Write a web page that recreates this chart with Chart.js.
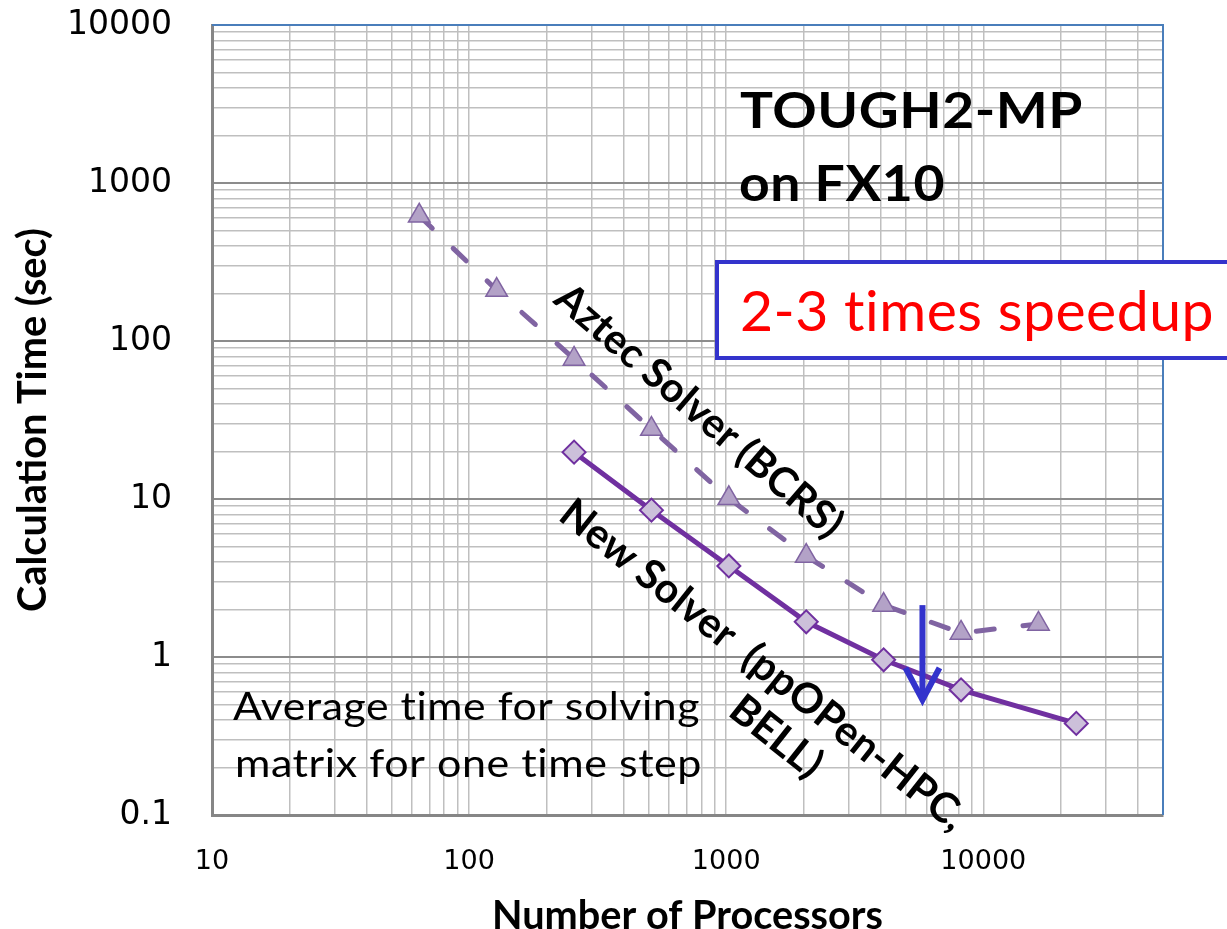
<!DOCTYPE html>
<html>
<head>
<meta charset="utf-8">
<title>TOUGH2-MP on FX10</title>
<script src="https://cdn.jsdelivr.net/npm/chart.js@4.4.1/dist/chart.umd.min.js"></script>
<style>
  html, body { margin: 0; padding: 0; background: #fff; }
  canvas { display: block; }
</style>
</head>
<body>
<canvas id="chart" width="1227" height="929"></canvas>
<script>
// --- data ---
const aztecProcs = [64, 128, 256, 512, 1024, 2048, 4096, 8192, 16384];
const aztecTime = [620, 210, 77, 27.7, 10.1, 4.35, 2.13, 1.42, 1.62];
const newProcs = [256, 512, 1024, 2048, 4096, 8192, 23000];
const newTime = [19.8, 8.5, 3.77, 1.67, 0.96, 0.62, 0.38];

const xTickLabels = [10, 100, 1000, 10000];
const yTickLabels = [0.1, 1, 10, 100, 1000, 10000];
const X_MIN = 10, X_MAX = 50000;
const Y_MIN = 0.1, Y_MAX = 10000;

// blue "speedup" arrow, in data units
const arrowProcs = 5800;
const arrowFrom = 2.13;
const arrowTo = 0.535;

// --- style ---
const GRID = "#bfbfbf";
const GRID_MAJOR = "#8c8c8c";
const AXIS = "#868686";
const BLUE = "#3333cc";
const TEXT_FONT = "Lato";

const measureCtx = document.createElement("canvas").getContext("2d");
// font size that makes `text` exactly `width` px wide
function fitSize(text, weight, family, width) {
  measureCtx.font = `${weight} 100px ${family}`;
  return (100 * width) / measureCtx.measureText(text).width;
}

// gridline values 1..9 x each decade, up to max
function logGrid(decades, max) {
  const out = [];
  for (const d of decades)
    for (let m = 1; m <= 9; m++) {
      const v = +(m * d).toPrecision(3);
      if (v <= max) out.push(v);
    }
  return out;
}

const xTitle = "Number of Processors";
const yTitle = "Calculation Time (sec)";
const xTitleSize = fitSize(xTitle, "bold", TEXT_FONT, 391);
const yTitleSize = fitSize(yTitle, "bold", TEXT_FONT, 384);

// text drawn stretched into a box: left x, baseline y, font size, target width
function boxText(ctx, text, x, y, weight, size, width, color) {
  ctx.save();
  ctx.font = `${weight} ${size}px ${TEXT_FONT}`;
  ctx.letterSpacing = "0.5px"; // no "ti" ligature
  ctx.fillStyle = color;
  ctx.textAlign = "left";
  ctx.textBaseline = "alphabetic";
  const w = ctx.measureText(text).width;
  ctx.translate(x, y);
  ctx.scale(width / w, 1);
  ctx.fillText(text, 0, 0);
  ctx.restore();
}

const notes = {
  id: "notes",
  beforeDatasetsDraw(chart) {
    // blue outline on the top and right of the plot area
    const { ctx, chartArea: a } = chart;
    ctx.save();
    ctx.strokeStyle = "#4a7ebb";
    ctx.lineWidth = 2;
    ctx.beginPath();
    ctx.moveTo(a.left, a.top);
    ctx.lineTo(a.right, a.top);
    ctx.lineTo(a.right, a.bottom);
    ctx.stroke();
    ctx.restore();
  },
  afterDatasetsDraw(chart) {
    const { ctx } = chart;
    const xs = chart.scales.x, ys = chart.scales.y;

    boxText(ctx, "TOUGH2-MP", 740, 128, "bold", 50, 343, "#000");
    boxText(ctx, "on FX10", 739, 201, "bold", 50, 206, "#000");

    // speedup box
    ctx.save();
    ctx.fillStyle = "#fff";
    ctx.strokeStyle = BLUE;
    ctx.lineWidth = 4;
    ctx.fillRect(717, 262, 600, 96);
    ctx.strokeRect(717, 262, 600, 96);
    ctx.restore();
    boxText(ctx, "2-3 times speedup", 740, 331, "normal", 57, 474, "#ff0000");

    boxText(ctx, "Average time for solving", 233, 720, "normal", 39, 467, "#000");
    boxText(ctx, "matrix for one time step", 235, 777, "normal", 39, 467, "#000");

    // rotated series labels
    ctx.save();
    ctx.fillStyle = "#000";
    ctx.textBaseline = "middle";
    ctx.textAlign = "center";
    const aztec = "Aztec Solver (BCRS)";
    ctx.translate(699, 411);
    ctx.rotate((40.7 * Math.PI) / 180);
    ctx.font = `bold ${fitSize(aztec, "bold", TEXT_FONT, 365)}px ${TEXT_FONT}`;
    ctx.fillText(aztec, 0, 0);
    ctx.restore();

    ctx.save();
    ctx.fillStyle = "#000";
    ctx.textBaseline = "middle";
    ctx.textAlign = "left";
    const line1 = "New Solver  (ppOPen-HPC,";
    ctx.translate(763, 665);
    ctx.rotate((38.4 * Math.PI) / 180);
    ctx.font = `bold ${fitSize(line1, "bold", TEXT_FONT, 505)}px ${TEXT_FONT}`;
    const full = ctx.measureText(line1).width;
    const pre = ctx.measureText("New Solver  ").width;
    ctx.fillText(line1, -full / 2, 0);
    ctx.fillText("BELL)", -full / 2 + pre + 22, 48);
    ctx.restore();

    // arrow
    const ax = xs.getPixelForValue(arrowProcs);
    const ay0 = ys.getPixelForValue(arrowFrom);
    const ay1 = ys.getPixelForValue(arrowTo);
    ctx.save();
    ctx.strokeStyle = BLUE;
    ctx.lineWidth = 6;
    ctx.lineJoin = "miter";
    ctx.beginPath();
    ctx.moveTo(ax, ay0);
    ctx.lineTo(ax, ay1 - 4);
    ctx.stroke();
    ctx.beginPath();
    ctx.moveTo(ax - 17, ay1 - 32);
    ctx.lineTo(ax, ay1);
    ctx.lineTo(ax + 17, ay1 - 32);
    ctx.stroke();
    ctx.restore();
  },
};

const isMajorY = (ctx) => ctx.tick && yTickLabels.includes(ctx.tick.value);

new Chart(document.getElementById("chart"), {
  type: "scatter",
  data: {
    datasets: [
      {
        label: "New Solver (ppOpen-HPC, BELL)",
        data: newProcs.map((x, i) => ({ x, y: newTime[i] })),
        showLine: true,
        borderColor: "#7030a0",
        borderWidth: 5,
        pointStyle: "rectRot",
        pointRadius: 11.5,
        pointBackgroundColor: "#ccc0da",
        pointBorderColor: "#7030a0",
        pointBorderWidth: 2,
      },
      {
        label: "Aztec Solver (BCRS)",
        data: aztecProcs.map((x, i) => ({ x, y: aztecTime[i] })),
        showLine: true,
        borderColor: "#8064a2",
        borderWidth: 5,
        borderDash: [18, 29],
        borderCapStyle: "round",
        pointStyle: "triangle",
        pointRadius: 12.5,
        pointBackgroundColor: "#b3a2c7",
        pointBorderColor: "#8064a2",
        pointBorderWidth: 1.5,
      },
    ],
  },
  options: {
    responsive: false,
    animation: false,
    devicePixelRatio: 1,
    layout: { padding: { top: 25, right: 64, left: 0, bottom: 0 } },
    plugins: { legend: { display: false }, tooltip: { enabled: false } },
    scales: {
      x: {
        type: "logarithmic",
        min: X_MIN,
        max: X_MAX,
        afterBuildTicks: (s) => {
          s.ticks = logGrid(xTickLabels, X_MAX).map((value) => ({ value }));
        },
        afterFit: (s) => {
          s.height = 114;
          s.paddingLeft = 0;
          s.paddingRight = 0;
        },
        grid: { color: GRID, lineWidth: 1.5, drawTicks: false },
        border: { color: AXIS, width: 3 },
        ticks: {
          autoSkip: false,
          maxRotation: 0,
          padding: 31,
          color: "#000",
          font: { family: "DejaVu Sans", size: 27 },
          callback: (v) => (xTickLabels.includes(v) ? String(v) : ""),
        },
        title: {
          display: true,
          text: xTitle,
          color: "#000",
          font: { family: TEXT_FONT, weight: "bold", size: xTitleSize, lineHeight: 1 },
          padding: { top: 0, bottom: 13 - xTitleSize / 2 },
        },
      },
      y: {
        type: "logarithmic",
        min: Y_MIN,
        max: Y_MAX,
        afterBuildTicks: (s) => {
          s.ticks = logGrid(yTickLabels, Y_MAX).map((value) => ({ value }));
        },
        afterFit: (s) => {
          s.width = 212;
          s.paddingTop = 0;
          s.paddingBottom = 0;
        },
        grid: {
          color: (c) => (isMajorY(c) ? GRID_MAJOR : GRID),
          lineWidth: (c) => (isMajorY(c) ? 2 : 1.5),
          drawTicks: false,
        },
        border: { color: AXIS, width: 3 },
        ticks: {
          autoSkip: false,
          padding: 40,
          color: "#000",
          font: { family: "DejaVu Sans", size: 33 },
          callback: (v) => (yTickLabels.includes(v) ? String(v) : ""),
        },
        title: {
          display: true,
          text: yTitle,
          color: "#000",
          font: { family: TEXT_FONT, weight: "bold", size: yTitleSize, lineHeight: 1 },
          padding: { top: 33 - yTitleSize / 2, bottom: 0 },
        },
      },
    },
  },
  plugins: [notes],
});
</script>
</body>
</html>
